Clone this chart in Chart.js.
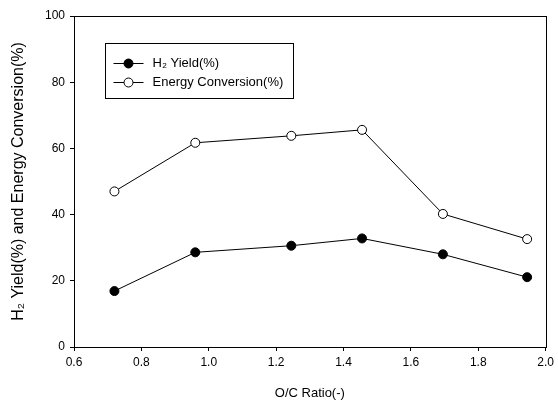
<!DOCTYPE html>
<html>
<head>
<meta charset="utf-8">
<script src="https://cdn.jsdelivr.net/npm/chart.js@4"></script>
<style>
  html, body { margin: 0; padding: 0; background: #fff; }
  #wrap { width: 558px; height: 405px; }
</style>
</head>
<body>
<div id="wrap"><canvas id="chart" width="558" height="405"></canvas></div>
<script>
const ocRatio = [0.72, 0.96, 1.245, 1.455, 1.695, 1.945];
const h2Yield = [16.9, 28.6, 30.6, 32.8, 28.0, 21.1];
const energyConversion = [47.0, 61.7, 63.8, 65.6, 40.2, 32.6];
const xTicks = [0.6, 0.8, 1.0, 1.2, 1.4, 1.6, 1.8, 2.0];
const yTicks = [0, 20, 40, 60, 80, 100];

const fontFamily = '"Liberation Sans", Arial, sans-serif';

// frame around the plot + boxed legend with line-and-marker swatches
const frameAndLegend = {
  id: 'frameAndLegend',
  afterDraw(chart) {
    const { ctx, chartArea: a } = chart;
    ctx.save();
    ctx.strokeStyle = '#000';
    ctx.lineWidth = 1;
    ctx.strokeRect(Math.round(a.left) + 0.5, Math.round(a.top) + 0.5,
      Math.round(a.right - a.left), Math.round(a.bottom - a.top));

    const bx = 105.5, by = 43.5, bw = 188, bh = 55;
    ctx.strokeRect(bx, by, bw, bh);
    ctx.font = '13px ' + fontFamily;
    ctx.textBaseline = 'middle';
    chart.data.datasets.forEach((ds, i) => {
      const y = by + 20 + i * 19;
      ctx.beginPath();
      ctx.moveTo(bx + 8, y);
      ctx.lineTo(bx + 38, y);
      ctx.stroke();
      ctx.beginPath();
      ctx.arc(bx + 23, y, 4.5, 0, Math.PI * 2);
      ctx.fillStyle = ds.pointBackgroundColor;
      ctx.fill();
      ctx.stroke();
      ctx.fillStyle = '#000';
      ctx.fillText(ds.label, bx + 47, y);
    });
    ctx.restore();
  }
};

new Chart(document.getElementById('chart'), {
  type: 'line',
  data: {
    datasets: [
      {
        label: 'H₂ Yield(%)',
        data: ocRatio.map((x, i) => ({ x, y: h2Yield[i] })),
        borderColor: '#000',
        borderWidth: 1,
        pointRadius: 4.5,
        pointBackgroundColor: '#000',
        pointBorderColor: '#000',
        pointBorderWidth: 1,
      },
      {
        label: 'Energy Conversion(%)',
        data: ocRatio.map((x, i) => ({ x, y: energyConversion[i] })),
        borderColor: '#000',
        borderWidth: 1,
        pointRadius: 4.5,
        pointBackgroundColor: '#fff',
        pointBorderColor: '#000',
        pointBorderWidth: 1,
      },
    ],
  },
  options: {
    responsive: false,
    animation: false,
    layout: { padding: { left: 0, top: 16, right: 11, bottom: 0 } },
    plugins: {
      legend: { display: false },
      tooltip: { enabled: false },
    },
    scales: {
      x: {
        type: 'linear',
        min: 0.6,
        max: 2.0,
        afterBuildTicks: (s) => { s.ticks = xTicks.map(v => ({ value: v })); },
        afterFit: (s) => { s.height = 58; },
        ticks: {
          color: '#000',
          font: { family: fontFamily, size: 12 },
          padding: 4,
          callback: (v) => v.toFixed(1),
        },
        grid: { drawOnChartArea: false, drawTicks: true, tickLength: 4, color: '#000' },
        border: { display: true, color: '#000' },
        title: {
          display: true,
          text: 'O/C Ratio(-)',
          color: '#000',
          font: { family: fontFamily, size: 13 },
          padding: { top: 6 },
        },
      },
      y: {
        min: 0,
        max: 100,
        afterBuildTicks: (s) => { s.ticks = yTicks.map(v => ({ value: v })); },
        afterFit: (s) => { s.width = 74; },
        ticks: {
          color: '#000',
          font: { family: fontFamily, size: 12 },
          padding: 5,
        },
        grid: { drawOnChartArea: false, drawTicks: true, tickLength: 4, color: '#000' },
        border: { display: true, color: '#000' },
        title: {
          display: true,
          text: 'H₂ Yield(%) and Energy Conversion(%)',
          color: '#000',
          font: { family: fontFamily, size: 16 },
          padding: { top: 9, bottom: 0 },
        },
      },
    },
  },
  plugins: [frameAndLegend],
});
</script>
</body>
</html>
